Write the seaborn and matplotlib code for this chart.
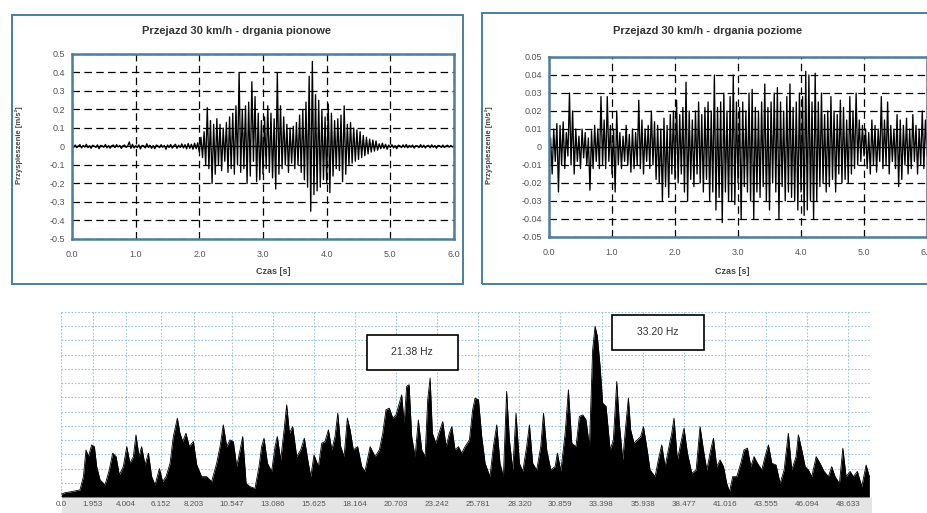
import numpy as np
import pandas as pd
import seaborn as sns
import matplotlib.pyplot as plt
from matplotlib.patches import Rectangle

# ---------------- data ----------------
dt_s = 0.025  # sampling step of the traces [s]

vert_acc = [
    0.005, -0.004, 0.008, -0.006, 0.003, 0.010, -0.008, 0.006, -0.003, 0.012,
    -0.006, 0.004, -0.010, 0.007, 0.002, -0.005, 0.009, -0.012, 0.006, 0.003,
    -0.004, 0.011, -0.007, 0.005, -0.009, 0.004, 0.008, -0.006, 0.010, -0.003,
    0.006, -0.011, 0.004, 0.008, -0.005, 0.003, 0.025, -0.010, 0.012, -0.008,
    0.004, -0.006, 0.009, -0.013, 0.006, 0.004, -0.008, 0.015, -0.005, 0.007,
    -0.010, 0.005, -0.012, 0.008, 0.003, -0.006, 0.010, -0.004, 0.006, -0.015,
    0.008, -0.005, 0.011, -0.009, 0.004, 0.012, -0.010, 0.007, -0.005, 0.014,
    -0.008, 0.010, -0.013, 0.016, -0.010, 0.012, -0.015, 0.018, -0.012, 0.020,
    -0.03, 0.05, -0.06, 0.08, -0.10, 0.21, -0.12, 0.14, -0.20, 0.12,
    -0.15, 0.15, -0.10, 0.12, -0.13, 0.10, -0.08, 0.13, -0.14, 0.16,
    -0.12, 0.18, -0.15, 0.22, -0.10, 0.40, -0.14, 0.20, -0.12, 0.22,
    -0.20, 0.24, -0.16, 0.35, -0.08, 0.27, -0.19, 0.18, -0.18, 0.14,
    -0.15, 0.16, -0.12, 0.22, -0.14, 0.18, -0.17, 0.15, -0.23, 0.40,
    -0.15, 0.22, -0.12, 0.16, -0.10, 0.12, -0.14, 0.10, -0.09, 0.11,
    -0.12, 0.13, -0.10, 0.17, -0.14, 0.20, -0.18, 0.24, -0.22, 0.38,
    -0.35, 0.46, -0.26, 0.28, -0.24, 0.25, -0.22, 0.20, -0.18, 0.16,
    -0.20, 0.23, -0.25, 0.18, -0.16, 0.14, -0.12, 0.15, -0.13, 0.17,
    -0.19, 0.22, -0.15, 0.12, -0.10, 0.13, -0.09, 0.10, -0.08, 0.09,
    -0.07, 0.08, -0.06, 0.06, -0.05, 0.05, -0.04, 0.04, -0.03, 0.035,
    -0.025, 0.03,
    -0.02, 0.015, -0.012, 0.018, -0.010, 0.012, -0.015, 0.008, -0.006, 0.010,
    -0.008, 0.005, -0.012, 0.007, 0.004, -0.006, 0.009, -0.005, 0.011, -0.007,
    0.006, -0.004, 0.008, -0.009, 0.005, 0.003, -0.006, 0.010, -0.005, 0.007,
    -0.008, 0.004, 0.006, -0.007, 0.009, -0.004, 0.005, -0.010, 0.006, 0.004,
    -0.005, 0.008, -0.006, 0.003, 0.007, -0.004, 0.006, -0.003, 0.004,
]

horiz_acc = [
    -0.012, 0.005, -0.015, 0.010, -0.008, 0.013, -0.025, 0.012, -0.010, 0.014,
    -0.012, 0.008, -0.005, 0.030, -0.010, 0.020, -0.015, 0.010, -0.008, 0.006,
    -0.012, 0.010, -0.006, 0.008, -0.010, 0.005, -0.024, 0.009, -0.012, 0.012,
    -0.008, 0.010, -0.012, 0.028, -0.010, 0.015, -0.012, 0.028, -0.008, 0.012,
    -0.015, 0.010, -0.025, 0.020, -0.010, 0.008, -0.012, 0.006, -0.008, 0.012,
    -0.010, 0.007, -0.014, 0.010, -0.012, 0.008, -0.010, 0.026, -0.012, 0.015,
    -0.015, 0.010, -0.008, 0.012, -0.012, 0.020, -0.010, 0.014, -0.018, 0.012,
    -0.020, 0.010, -0.030, 0.016, -0.022, 0.012, -0.028, 0.018, -0.015, 0.020,
    -0.018, 0.026, -0.020, 0.018, -0.015, 0.022, -0.025, 0.036, -0.030, 0.020,
    -0.018, 0.015, -0.022, 0.020, -0.015, 0.025, -0.020, 0.018, -0.025, 0.022,
    -0.018, 0.025, -0.030, 0.020, -0.025, 0.040, -0.035, 0.022, -0.028, 0.025,
    -0.042, 0.030, -0.025, 0.020, -0.030, 0.028, -0.030, 0.040, -0.032, 0.025,
    -0.020, 0.022, -0.040, 0.025, -0.022, 0.020, -0.025, 0.030, -0.030, 0.032,
    -0.040, 0.022, -0.025, 0.020, -0.028, 0.025, -0.022, 0.035, -0.030, 0.022,
    -0.035, 0.025, -0.020, 0.030, -0.025, 0.033, -0.040, 0.025, -0.022, 0.020,
    -0.030, 0.028, -0.025, 0.035, -0.028, 0.022, -0.030, 0.025, -0.035, 0.030,
    -0.025, 0.028, -0.038, 0.042, -0.035, 0.040, -0.030, 0.025, -0.040, 0.041,
    -0.030, 0.025, -0.022, 0.030, -0.020, 0.018, -0.025, 0.020, -0.022, 0.028,
    -0.018, 0.020, -0.025, 0.018, -0.015, 0.026, -0.020, 0.022, -0.018, 0.015,
    -0.020, 0.028,
    -0.015, 0.020, -0.012, 0.030, -0.010, 0.015, -0.008, 0.012, -0.005, 0.010,
    -0.012, 0.008, -0.015, 0.015, -0.010, 0.012, -0.014, 0.010, -0.008, 0.028,
    -0.012, 0.015, -0.010, 0.025, -0.015, 0.012, -0.008, 0.010, -0.012, 0.018,
    -0.022, 0.015, -0.018, 0.012, -0.010, 0.016, -0.015, 0.010, -0.012, 0.018,
    -0.008, 0.012, -0.015, 0.010, -0.010, 0.020, -0.012, 0.015, -0.005,
]

spec_freq = [
    0.0, 0.22, 0.74, 1.15, 1.36, 1.52, 1.67, 1.87, 2.04, 2.18, 2.39, 2.70, 2.96, 3.17, 3.38,
    3.58, 3.83, 4.04, 4.24, 4.45, 4.61, 4.80, 4.96, 5.17, 5.38, 5.58, 5.79, 6.06, 6.26, 6.47,
    6.72, 6.92, 7.17, 7.33, 7.50, 7.70, 7.91, 8.16, 8.37, 8.67, 8.98, 9.29, 9.60, 9.81, 10.01,
    10.22, 10.43, 10.63, 10.84, 11.05, 11.21, 11.42, 11.66, 11.97, 12.22, 12.38, 12.53, 12.74,
    13.00, 13.21, 13.35, 13.56, 13.77, 13.93, 14.10, 14.30, 14.55, 14.80, 15.02, 15.27, 15.42,
    15.62, 15.89, 16.10, 16.30, 16.51, 16.72, 16.92, 17.09, 17.27, 17.48, 17.68, 17.85, 18.05,
    18.32, 18.57, 18.77, 19.09, 19.40, 19.66, 19.87, 20.07, 20.28, 20.49, 20.69, 20.90, 21.04,
    21.19, 21.35, 21.50, 21.66, 21.87, 22.07, 22.28, 22.49, 22.65, 22.80, 22.94, 23.15, 23.41,
    23.58, 23.79, 23.99, 24.14, 24.34, 24.55, 24.75, 24.96, 25.23, 25.43, 25.58, 25.79, 25.99,
    26.20, 26.50, 26.71, 26.92, 27.12, 27.33, 27.53, 27.70, 27.91, 28.11, 28.32, 28.53, 28.77,
    28.94, 29.14, 29.39, 29.64, 29.81, 30.01, 30.26, 30.53, 30.67, 30.88, 31.15, 31.35, 31.56,
    31.82, 32.03, 32.24, 32.44, 32.65, 32.85, 33.00, 33.14, 33.31, 33.47, 33.68, 33.93, 34.13,
    34.34, 34.50, 34.71, 34.91, 35.06, 35.20, 35.41, 35.61, 35.82, 35.99, 36.19, 36.40, 36.71,
    36.91, 37.12, 37.33, 37.53, 37.74, 37.88, 38.09, 38.30, 38.50, 38.71, 38.98, 39.25, 39.49,
    39.70, 39.91, 40.15, 40.32, 40.52, 40.73, 40.94, 41.14, 41.31, 41.51, 41.76, 42.01, 42.21,
    42.42, 42.63, 42.83, 43.04, 43.31, 43.51, 43.72, 43.93, 44.19, 44.44, 44.69, 44.95, 45.16,
    45.43, 45.57, 45.78, 45.99, 46.19, 46.40, 46.67, 46.91, 47.16, 47.43, 47.63, 47.84, 48.11,
    48.32, 48.52, 48.77, 48.97, 49.22, 49.49, 49.76, 49.96,
]

spec_amp = [
    0.20, 0.30, 0.40, 0.50, 1.43, 3.31, 2.84, 3.66, 3.54, 2.14, 1.20, 0.85, 1.90, 3.08, 2.84,
    1.55, 2.14, 3.54, 2.37, 2.84, 4.37, 2.84, 3.54, 2.25, 3.08, 1.43, 0.85, 2.00, 1.08, 1.43,
    2.37, 4.25, 5.54, 4.48, 3.90, 4.48, 3.54, 3.90, 2.25, 1.43, 1.43, 1.08, 2.37, 3.54, 5.07,
    3.54, 4.01, 3.90, 2.14, 3.31, 4.25, 0.96, 0.73, 0.60, 2.14, 3.54, 4.13, 2.37,
    1.80, 3.54, 4.25, 2.60, 4.72, 6.48, 4.48, 4.95, 2.84, 3.31, 4.13, 2.37, 1.43,
    2.96, 2.14, 3.78, 3.90, 4.72, 3.31, 4.25, 5.89, 3.54, 2.84, 5.54, 4.72, 3.31,
    3.54, 2.14, 1.80, 3.54, 2.84, 3.31, 4.48, 6.13, 6.24, 5.54, 5.77, 6.60, 7.18,
    5.19, 7.78, 7.89, 4.25, 2.84, 5.42, 3.31, 2.84, 6.83, 8.36, 4.48, 3.78, 4.72,
    5.30, 3.54, 4.48, 4.95, 3.31, 3.54, 3.08, 3.54, 4.01, 6.13, 6.95, 6.83, 4.25,
    2.37, 1.43, 3.54, 5.07, 2.37, 1.43, 7.42, 4.01, 1.90, 5.89, 2.37, 1.80, 3.54,
    5.07, 2.37, 1.90, 3.54, 5.89, 3.31, 1.90, 2.14, 3.08, 1.80, 4.48, 7.54, 3.78,
    3.54, 5.66, 5.77, 5.42, 3.54, 10.35, 12.00, 11.29, 9.18, 6.60, 6.36, 3.31, 4.01,
    8.12, 5.19, 2.60, 5.19, 6.95, 4.72, 3.78, 4.01, 4.25, 4.95, 3.54, 1.90, 1.43,
    2.60, 3.66, 2.14, 3.31, 4.48, 5.54, 2.60, 3.78, 4.84, 3.08, 1.67, 1.90, 4.95,
    3.31, 1.90, 3.31, 4.13, 2.14, 2.60, 2.14, 0.96, 0.37, 1.43, 1.43, 2.37, 3.31,
    3.43, 2.14, 2.84, 2.37, 1.90, 2.84, 3.66, 2.37, 2.25, 0.96, 1.90, 4.48, 1.90,
    2.84, 4.37, 3.31, 2.14, 1.90, 1.43, 2.84, 2.37, 1.80, 1.43, 2.14, 1.43, 0.96,
    3.43, 1.43, 1.80, 1.43, 1.80, 0.73, 2.25, 1.43,
]

spec_tick_vals = [0.0, 1.953, 4.004, 6.152, 8.203, 10.547, 13.086, 15.625, 18.164, 20.703,
                  23.242, 25.781, 28.320, 30.859, 33.398, 35.938, 38.477, 41.016, 43.555,
                  46.094, 48.633]
spec_tick_labels = ["0.0", "1.953", "4.004", "6.152", "8.203", "10.547", "13.086", "15.625",
                    "18.164", "20.703", "23.242", "25.781", "28.320", "30.859", "33.398",
                    "35.938", "38.477", "41.016", "43.555", "46.094", "48.633"]

peak_labels = ["21.38 Hz", "33.20 Hz"]

# ---------------- style ----------------
sns.set_theme(style="white")
plt.rcParams['font.family'] = ['Liberation Sans', 'DejaVu Sans']

W, H = 928, 513
fig = plt.figure(figsize=(W / 100, H / 100), dpi=100)
fig.patch.set_facecolor("white")

SP = "#4d7f9a"
TXT = "#555555"


def fig_rect(x0, y0, x1, y1, **kw):
    fig.patches.append(Rectangle((x0 / W, 1 - y1 / H), (x1 - x0) / W, (y1 - y0) / H,
                                 transform=fig.transFigure, **kw))


# panel frames
fig_rect(12, 15, 463, 284, fill=False, edgecolor=SP, lw=1.4, zorder=-1)
fig_rect(482, 13, 940, 284, fill=False, edgecolor=SP, lw=1.4, zorder=-1)
# grey band under spectrum tick labels
fig_rect(62, 498, 872, 513, facecolor="#e4e4e4", edgecolor="none", zorder=-2)

ax1 = fig.add_axes([72 / W, 1 - 239 / H, 382 / W, 185 / H])
ax2 = fig.add_axes([549 / W, 1 - 237 / H, 378 / W, 180 / H])
ax3 = fig.add_axes([61.4 / W, 1 - 497 / H, 808.6 / W, 185 / H])
ax3.patch.set_alpha(0)

df_v = pd.DataFrame({"t": np.arange(len(vert_acc)) * dt_s, "a": vert_acc})
df_h = pd.DataFrame({"t": np.arange(len(horiz_acc)) * dt_s, "a": horiz_acc})
df_s = pd.DataFrame({"f": spec_freq, "a": spec_amp})


def style_time_axis(ax, yticks, ylabels, title, title_x):
    ax.set_xlim(0, 6)
    ax.set_ylim(yticks[0], yticks[-1])
    ax.set_xticks([0, 1, 2, 3, 4, 5, 6])
    ax.set_xticklabels(["0.0", "1.0", "2.0", "3.0", "4.0", "5.0", "6.0"],
                       fontsize=6.5, color=TXT)
    ax.set_yticks(yticks)
    ax.set_yticklabels(ylabels, fontsize=6.5, color=TXT)
    ax.grid(True, color="black", linestyle=(0, (6, 3.5)), lw=0.9)
    ax.axhline(0, color="black", lw=0.8, zorder=1)
    for s in ax.spines.values():
        s.set_color(SP)
        s.set_linewidth(1.8)
    ax.tick_params(axis="both", length=3, width=1, color=SP, pad=2, direction="out")
    ax.tick_params(axis="x", pad=5)
    ax.set_xlabel("")
    ax.set_ylabel("")
    fig.text(title_x / W, 1 - 31 / H, title, ha="center", va="center",
             fontsize=8, fontweight="bold", color="#333333")


sns.lineplot(data=df_v, x="t", y="a", ax=ax1, color="black", lw=0.95,
             estimator=None, sort=False)
style_time_axis(ax1, [-0.5, -0.4, -0.3, -0.2, -0.1, 0, 0.1, 0.2, 0.3, 0.4, 0.5],
                ["-0.5", "-0.4", "-0.3", "-0.2", "-0.1", "0", "0.1", "0.2", "0.3", "0.4", "0.5"],
                "Przejazd 30 km/h - drgania pionowe", 237)

sns.lineplot(data=df_h, x="t", y="a", ax=ax2, color="black", lw=0.95,
             estimator=None, sort=False)
style_time_axis(ax2, [-0.05, -0.04, -0.03, -0.02, -0.01, 0, 0.01, 0.02, 0.03, 0.04, 0.05],
                ["-0.05", "-0.04", "-0.03", "-0.02", "-0.01", "0", "0.01", "0.02", "0.03",
                 "0.04", "0.05"],
                "Przejazd 30 km/h - drgania poziome", 708)

fig.text(273 / W, 1 - 272 / H, "Czas [s]", ha="center", va="center", fontsize=6.5,
         fontweight="bold", color="#444444")
fig.text(732 / W, 1 - 272 / H, "Czas [s]", ha="center", va="center", fontsize=6.5,
         fontweight="bold", color="#444444")
fig.text(19 / W, 1 - 145 / H, "Przyspieszenie [m/s²]", ha="center", va="center",
         rotation=90, fontsize=5.5, fontweight="bold", color="#444444")
fig.text(489 / W, 1 - 145 / H, "Przyspieszenie [m/s²]", ha="center", va="center",
         rotation=90, fontsize=5.5, fontweight="bold", color="#444444")

# spectrum
sns.lineplot(data=df_s, x="f", y="a", ax=ax3, color="black", lw=0.6,
             estimator=None, sort=False)
ax3.fill_between(df_s["f"], df_s["a"], 0, color="black", lw=0)
ax3.set_xlim(0, 50)
ax3.set_ylim(0, 13)
ax3.set_yticks(range(0, 14))
ax3.set_yticklabels([])
ax3.set_xticks(spec_tick_vals)
ax3.set_xticklabels(spec_tick_labels, fontsize=5.8, color=TXT)
ax3.tick_params(axis="both", length=0, pad=3)
ax3.grid(True, color="#9cc3dc", linestyle=(0, (1.5, 1.5)), lw=0.8)
ax3.set_axisbelow(True)
for s in ax3.spines.values():
    s.set_visible(False)
ax3.set_xlabel("")
ax3.set_ylabel("")

ax3.add_patch(Rectangle((18.9, 8.94), 5.63, 2.47, facecolor="white", edgecolor="black",
                        lw=1.2, zorder=5))
ax3.text(21.7, 10.17, peak_labels[0], ha="center", va="center", fontsize=7.5,
         color="#333333", zorder=6)
ax3.add_patch(Rectangle((34.05, 10.35), 5.69, 2.47, facecolor="white", edgecolor="black",
                        lw=1.2, zorder=5))
ax3.text(36.9, 11.58, peak_labels[1], ha="center", va="center", fontsize=7.5,
         color="#333333", zorder=6)

fig.savefig("out.png", dpi=100)
